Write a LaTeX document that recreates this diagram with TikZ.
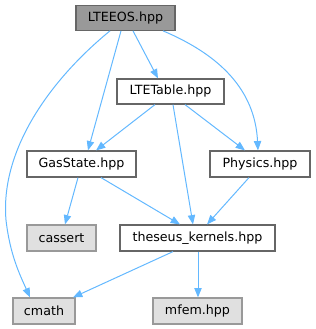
\documentclass[tikz,border=0pt]{standalone}
\usepackage{fontspec}
\setmainfont{DejaVu Sans}
\usetikzlibrary{arrows.meta}
\definecolor{edgec}{HTML}{63B8FF}
\definecolor{bordw}{HTML}{666666}
\definecolor{bordg}{HTML}{999999}
\definecolor{fillg}{HTML}{E0E0E0}
\definecolor{filltop}{HTML}{999999}
\begin{document}
\begin{tikzpicture}[x=0.75pt,y=-0.75pt,
  box/.style={draw=bordw,fill=white,line width=0.9pt,minimum height=19.5pt,inner sep=0pt,font=\fontsize{9.5pt}{11pt}\selectfont},
  sysbox/.style={box,draw=bordg,fill=fillg},
  topbox/.style={box,draw=bordw,fill=filltop},
  dep/.style={draw=edgec,line width=0.75pt,-{Triangle[length=7pt,width=5.5pt]}}]
\useasboundingbox (0,0) rectangle (315,329);
\node[topbox,minimum width=74.25pt,minimum height=18.75pt] (eos) at (125.5,17.75) {LTEEOS.hpp};
\node[box,minimum width=80.25pt,minimum height=18.75pt] (tab) at (170.5,91.5) {LTETable.hpp};
\node[box,minimum width=81.75pt] (gas) at (81.5,164) {GasState.hpp};
\node[box,minimum width=75pt] (phy) at (260,164) {Physics.hpp};
\node[sysbox,minimum width=51.75pt] (cas) at (61.5,238) {cassert};
\node[box,minimum width=116.25pt] (ker) at (197.5,238) {theseus\_kernels.hpp};
\node[sysbox,minimum width=46.5pt] (cm) at (44,311) {cmath};
\node[sysbox,minimum width=66.75pt] (mf) at (197.5,311) {mfem.hpp};

\draw[dep] ([shift={(-15.5,0)}]eos.south) .. controls (50,80) and (0,150) .. (6,220) .. controls (10,255) and (20,275) .. ([shift={(-14,0)}]cm.north);
\draw[dep] ([shift={(-4.5,0)}]eos.south) -- ([shift={(6.5,0)}]gas.north);
\draw[dep] ([shift={(7.5,0)}]eos.south) -- ([shift={(-12.5,0)}]tab.north);
\draw[dep] ([shift={(37.5,0)}]eos.south) .. controls (220,55) and (255,90) .. ([shift={(-2,0)}]phy.north);
\draw[dep] ([shift={(-15.5,0)}]tab.south) -- ([shift={(14.5,0)}]gas.north);
\draw[dep] ([shift={(2.5,0)}]tab.south) -- ([shift={(-4.5,0)}]ker.north);
\draw[dep] ([shift={(14.5,0)}]tab.south) -- ([shift={(-15,0)}]phy.north);
\draw[dep] ([shift={(-3.5,0)}]gas.south) -- ([shift={(3.5,0)}]cas.north);
\draw[dep] ([shift={(19.5,0)}]gas.south) -- ([shift={(-17.5,0)}]ker.north);
\draw[dep] ([shift={(-11,0)}]phy.south) -- ([shift={(9.5,0)}]ker.north);
\draw[dep] ([shift={(-24.5,0)}]ker.south) -- ([shift={(29,0)}]cm.north);
\draw[dep] ([shift={(0.5,0)}]ker.south) -- ([shift={(0.5,0)}]mf.north);
\end{tikzpicture}
\end{document}
